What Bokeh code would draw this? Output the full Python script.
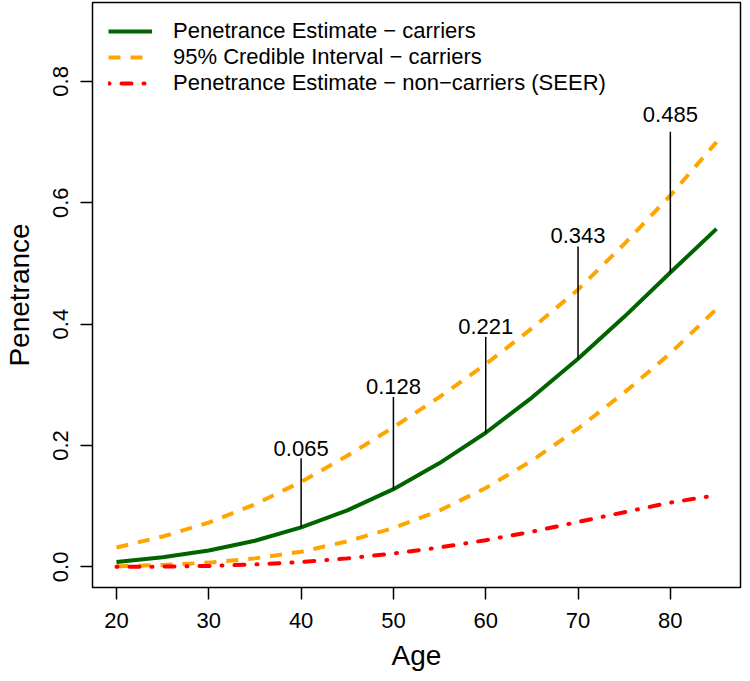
from bokeh.plotting import figure
from bokeh.models import FixedTicker, Range1d, Legend, LegendItem, CustomJSTickFormatter
from bokeh.core.properties import value
from bokeh.embed import file_html
from bokeh.resources import INLINE

# ---- data ----
ages = [20, 25, 30, 35, 40, 45, 50, 55, 60, 65, 70, 75, 80, 85]
pen_carriers = [0.008, 0.016, 0.027, 0.043, 0.065, 0.093, 0.128, 0.171, 0.221, 0.279, 0.343, 0.412, 0.485, 0.557]
ci_upper = [0.032, 0.050, 0.073, 0.103, 0.140, 0.183, 0.230, 0.280, 0.334, 0.393, 0.457, 0.532, 0.612, 0.700]
ci_lower = [0.001, 0.003, 0.007, 0.014, 0.025, 0.042, 0.064, 0.093, 0.130, 0.175, 0.228, 0.287, 0.352, 0.425]
pen_seer = [0.000, 0.0005, 0.0015, 0.004, 0.008, 0.014, 0.022, 0.032, 0.044, 0.058, 0.074, 0.090, 0.106, 0.118]

anno_ages = [40, 50, 60, 70, 80]
anno_vals = [0.065, 0.128, 0.221, 0.343, 0.485]
anno_tops = [0.179, 0.280, 0.379, 0.528, 0.717]
anno_text_y = [0.180, 0.281, 0.380, 0.530, 0.730]
anno_labels = ["0.065", "0.128", "0.221", "0.343", "0.485"]

x_ticks = [20, 30, 40, 50, 60, 70, 80]
y_ticks = [0.0, 0.2, 0.4, 0.6, 0.8]

legend_labels = ["Penetrance Estimate \u2212 carriers",
                 "95% Credible Interval \u2212 carriers",
                 "Penetrance Estimate \u2212 non\u2212carriers (SEER)"]

FONT = "Liberation Sans"

p = figure(width=742, height=673, output_backend="svg", toolbar_location=None,
           x_range=Range1d(17.4, 87.6), y_range=Range1d(-0.034, 0.93),
           min_border_left=85, min_border_right=2, min_border_top=2, min_border_bottom=86)
p.background_fill_color = "white"
p.border_fill_color = "white"
p.outline_line_color = "black"
p.outline_line_width = 1.5
p.grid.visible = False

r_green = p.line(ages, pen_carriers, line_color="#006400", line_width=4)
r_up = p.line(ages, ci_upper, line_color="#FFA500", line_width=4, line_dash="12 10")
r_lo = p.line(ages, ci_lower, line_color="#FFA500", line_width=4, line_dash="12 10")
r_red = p.line(ages, pen_seer, line_color="#FF0000", line_width=4, line_dash="1 12 10 12", line_cap="round")

p.segment(x0=anno_ages, y0=anno_vals, x1=anno_ages, y1=anno_tops, line_color="black", line_width=1.5)
p.text(x=anno_ages, y=anno_text_y, text=anno_labels, text_align="center", text_baseline="bottom",
       y_offset=-2, text_font=value(FONT), text_font_size="22px", text_color="black")

# axes
for ax in (p.xaxis[0], p.yaxis[0]):
    ax.axis_line_color = None
    ax.major_tick_in = 0
    ax.major_tick_out = 12
    ax.major_tick_line_width = 1.5
    ax.minor_tick_line_color = None
    ax.major_label_text_font = FONT
    ax.major_label_text_font_size = "22px"
    ax.major_label_text_color = "black"
    ax.axis_label_text_font = FONT
    ax.axis_label_text_font_size = "28px"
    ax.axis_label_text_font_style = "normal"
    ax.axis_label_text_color = "black"

p.xaxis.ticker = FixedTicker(ticks=x_ticks)
p.yaxis.ticker = FixedTicker(ticks=y_ticks)
p.yaxis.formatter = CustomJSTickFormatter(code="return tick.toFixed(1);")
p.yaxis.major_label_orientation = "vertical"
p.xaxis.axis_label = "Age"
p.yaxis.axis_label = "Penetrance"
p.xaxis.major_label_standoff = 13
p.yaxis.major_label_standoff = 12
p.xaxis.axis_label_standoff = 9
p.yaxis.axis_label_standoff = 16

legend = Legend(items=[LegendItem(label=legend_labels[0], renderers=[r_green]),
                       LegendItem(label=legend_labels[1], renderers=[r_up]),
                       LegendItem(label=legend_labels[2], renderers=[r_red])],
                location="top_left")
legend.border_line_color = None
legend.background_fill_alpha = 0
legend.label_text_font = FONT
legend.label_text_font_size = "22px"
legend.label_text_color = "black"
legend.glyph_width = 44
legend.glyph_height = 22
legend.label_height = 22
legend.spacing = 0
legend.margin = 16
legend.padding = 10
legend.label_standoff = 21
p.add_layout(legend)

open("out.html", "w").write(file_html(p, INLINE))
